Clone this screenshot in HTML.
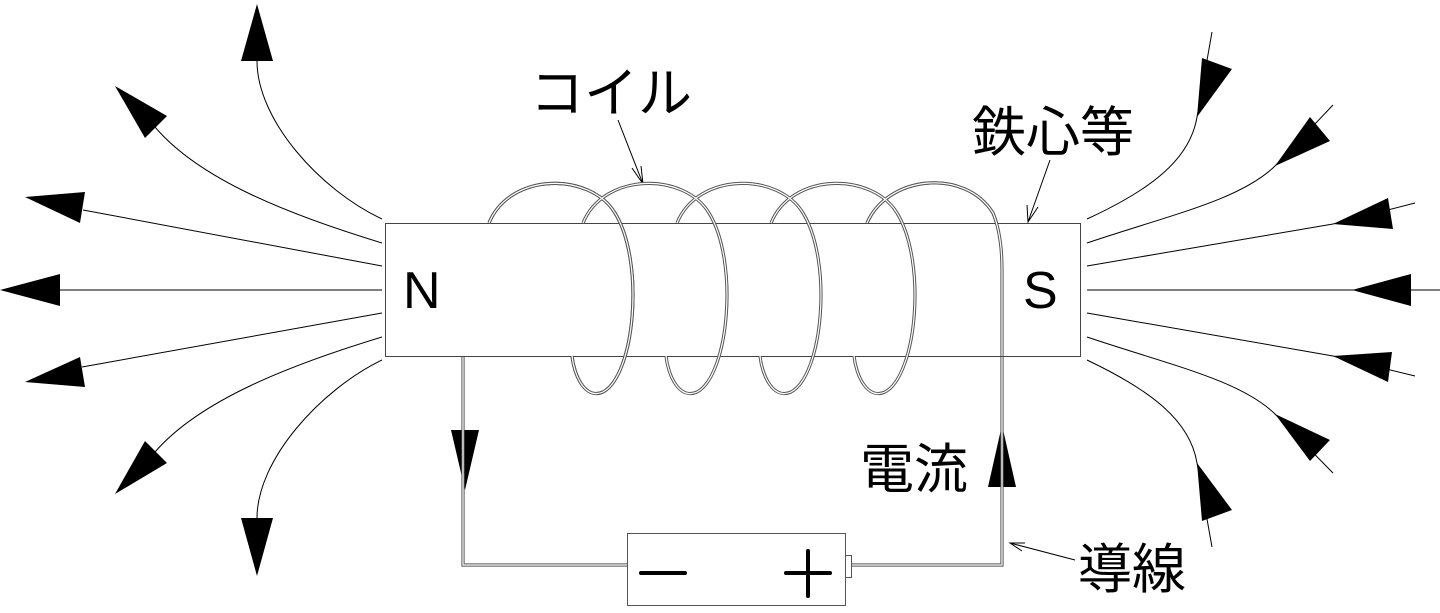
<!DOCTYPE html>
<html><head><meta charset="utf-8"><style>
html,body{margin:0;padding:0;background:#fff;}
svg{display:block;}
text{font-family:"Liberation Sans","Noto Sans CJK JP",sans-serif;fill:#000;}
</style></head><body>
<svg width="1440" height="613" viewBox="0 0 1440 613" xmlns="http://www.w3.org/2000/svg">
<g fill="none" stroke="#000" stroke-width="1">
<!-- left field lines -->
<path d="M382,219 C320,190 257,120 257,61"/>
<path d="M382,243 C290,215 200,180 155,127"/>
<path d="M382,266 L83,210"/>
<path d="M382,290 L60,290"/>
<path d="M382,313 L82,367"/>
<path d="M382,337 C290,365 200,400 155,452"/>
<path d="M382,360 C320,390 257,460 257,518"/>
<!-- right field lines -->
<path d="M1087,219 C1150,190 1190,160 1197,117 L1212,32"/>
<path d="M1087,243 C1170,215 1240,200 1275,166 L1333,105"/>
<path d="M1087,266 L1333,224 L1415,203"/>
<path d="M1087,290 L1440,290"/>
<path d="M1087,313 L1333,356 L1415,376"/>
<path d="M1087,337 C1170,365 1240,380 1275,414 L1333,473"/>
<path d="M1087,360 C1150,390 1190,420 1197,463 L1212,547"/>
<!-- leaders -->
<path d="M618,120 L643,184 M632,168 L643,184 L641,166"/>
<path d="M1050,160 L1028,222 M1027,205 L1028,222 L1038,207"/>
<path d="M1075,560 L1010,543 M1025,543 L1010,543 L1022,551"/>
</g>
<g fill="#000">
<!-- left arrowheads -->
<polygon points="257,4 241,61 273,61"/>
<polygon points="115,86 145,138 167,116"/>
<polygon points="25,197 85,192 80,223"/>
<polygon points="0,290 60,274 60,306"/>
<polygon points="25,382 80,357 85,387"/>
<polygon points="115,494 145,441 167,463"/>
<polygon points="257,576 241,518 273,518"/>
<!-- right arrowheads -->
<polygon points="1197,117 1202,58 1232,69"/>
<polygon points="1275,166 1310,117 1330,141"/>
<polygon points="1333,224 1388,198 1393,229"/>
<polygon points="1352,290 1411,274 1411,306"/>
<polygon points="1333,356 1392,352 1388,382"/>
<polygon points="1275,414 1330,440 1310,461"/>
<polygon points="1197,463 1202,521 1232,510"/>
<!-- current arrows -->
<polygon points="465,490 451,430 479,430"/>
<polygon points="1002,425 988,487 1016,487"/>
</g>
<!-- back parts hidden; rect -->
<g fill="none" stroke="#555" stroke-width="3.2">
<path d="M463,356 L463,565 L627,565"/>
<path d="M851,565 L1002,565 L1002,270 C1002,250 1000,230 993,213 C965,168 888,175 867,223"/>
</g>
<g fill="none" stroke="#fff" stroke-width="1.2">
<path d="M463,356 L463,565 L627,565"/>
<path d="M851,565 L1002,565 L1002,270 C1002,250 1000,230 993,213 C965,168 888,175 867,223"/>
</g>
<rect x="385.5" y="223.5" width="695" height="133" fill="#fff" stroke="#444" stroke-width="1"/>
<!-- coil front -->
<g id="loops">
<path id="lp" d="M489,223 C510,172 590,172 615,213 C645,262 635,375 603,392 C585,400 574,375 572,356" fill="none" stroke="#555" stroke-width="3.2"/>
</g>
<g fill="none" stroke="#555" stroke-width="3.2">
<path d="M489,223 C510,172 590,172 615,213 C645,262 635,375 603,392 C585,400 574,375 572,356"/>
<path d="M583,223 C604,172 684,172 709,213 C739,262 729,375 697,392 C679,400 668,375 666,356"/>
<path d="M677,223 C698,172 778,172 803,213 C833,262 823,375 791,392 C773,400 762,375 760,356"/>
<path d="M771,223 C792,172 872,172 897,213 C927,262 917,375 885,392 C867,400 856,375 854,356"/>
<path d="M1002,356 L1002,270 C1002,250 1000,230 993,213 C965,168 888,175 867,223"/>
</g>
<g fill="none" stroke="#fff" stroke-width="1.2">
<path d="M489,223 C510,172 590,172 615,213 C645,262 635,375 603,392 C585,400 574,375 572,356"/>
<path d="M583,223 C604,172 684,172 709,213 C739,262 729,375 697,392 C679,400 668,375 666,356"/>
<path d="M677,223 C698,172 778,172 803,213 C833,262 823,375 791,392 C773,400 762,375 760,356"/>
<path d="M771,223 C792,172 872,172 897,213 C927,262 917,375 885,392 C867,400 856,375 854,356"/>
<path d="M1002,356 L1002,270 C1002,250 1000,230 993,213 C965,168 888,175 867,223"/>
</g>
<!-- battery -->
<rect x="627.5" y="533.5" width="218" height="72" fill="#fff" stroke="#555" stroke-width="1"/>
<rect x="845.5" y="555.5" width="6" height="22" fill="#fff" stroke="#555" stroke-width="1"/>
<g stroke="#000" stroke-width="4" stroke-linecap="round">
<line x1="641" y1="573" x2="685" y2="573"/>
<line x1="786" y1="573" x2="830" y2="573"/>
<line x1="808" y1="551" x2="808" y2="596"/>
</g>
<text x="403" y="308" font-size="52">N</text>
<text x="1023" y="308" font-size="52">S</text>
<text x="530" y="112" font-size="54">コイル</text>
<text x="972" y="151" font-size="54">鉄心等</text>
<text x="860" y="488" font-size="54">電流</text>
<text x="1078" y="588" font-size="54">導線</text>
</svg>
</body></html>
